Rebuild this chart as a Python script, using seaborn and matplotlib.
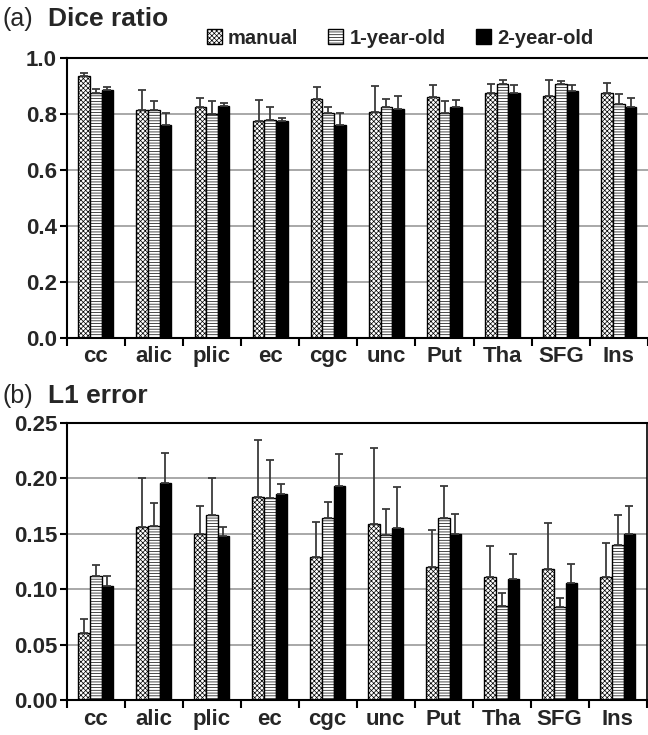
import numpy as np
import pandas as pd
import matplotlib
matplotlib.use('Agg')
import matplotlib.pyplot as plt
from matplotlib.patches import Patch
import seaborn as sns

# chart values
regions = ['cc', 'alic', 'plic', 'ec', 'cgc', 'unc', 'Put', 'Tha', 'SFG', 'Ins']
groups = ['manual', '1-year-old', '2-year-old']

dice_manual = [0.937, 0.815, 0.825, 0.775, 0.854, 0.807, 0.862, 0.874, 0.866, 0.874]
dice_1yr = [0.874, 0.815, 0.799, 0.778, 0.803, 0.826, 0.805, 0.908, 0.908, 0.836]
dice_2yr = [0.887, 0.761, 0.829, 0.776, 0.762, 0.818, 0.826, 0.877, 0.883, 0.826]
dice_manual_sd = [0.010, 0.070, 0.032, 0.077, 0.043, 0.092, 0.043, 0.035, 0.054, 0.037]
dice_1yr_sd = [0.016, 0.030, 0.046, 0.049, 0.023, 0.028, 0.040, 0.015, 0.009, 0.034]
dice_2yr_sd = [0.010, 0.042, 0.010, 0.011, 0.041, 0.046, 0.024, 0.028, 0.022, 0.031]

l1_manual = [0.061, 0.156, 0.150, 0.183, 0.129, 0.159, 0.120, 0.111, 0.118, 0.111]
l1_1yr = [0.112, 0.157, 0.167, 0.182, 0.164, 0.149, 0.164, 0.085, 0.084, 0.140]
l1_2yr = [0.103, 0.196, 0.148, 0.186, 0.193, 0.155, 0.150, 0.109, 0.106, 0.150]
l1_manual_sd = [0.012, 0.044, 0.025, 0.051, 0.032, 0.068, 0.033, 0.028, 0.042, 0.031]
l1_1yr_sd = [0.010, 0.021, 0.033, 0.034, 0.015, 0.023, 0.029, 0.012, 0.008, 0.027]
l1_2yr_sd = [0.009, 0.027, 0.008, 0.009, 0.029, 0.037, 0.018, 0.023, 0.017, 0.025]

sns.set_style('white')
plt.rcParams['font.family'] = ['Liberation Sans', 'DejaVu Sans']
plt.rcParams['hatch.linewidth'] = 0.5

styles = {
    'manual': dict(facecolor='white', hatch='xxxxxxx'),
    '1-year-old': dict(facecolor='white', hatch='------'),
    '2-year-old': dict(facecolor='black', hatch=None),
}


def make_df(a, b, c):
    rows = []
    for g, vals in zip(groups, [a, b, c]):
        for r, v in zip(regions, vals):
            rows.append({'region': r, 'group': g, 'value': v})
    return pd.DataFrame(rows)


def draw_panel(ax, df, sds, ymax, ystep, fmt):
    sns.barplot(data=df, x='region', y='value', hue='group', order=regions,
                hue_order=groups, width=0.6, gap=0, errorbar=None, legend=False,
                palette=['white', 'white', 'black'], ax=ax)
    for cont, g, sd in zip(ax.containers, groups, sds):
        for bar, e in zip(cont, sd):
            bar.set_facecolor(styles[g]['facecolor'])
            bar.set_edgecolor('black')
            bar.set_linewidth(1.0)
            if styles[g]['hatch']:
                bar.set_hatch(styles[g]['hatch'])
        xs = [b.get_x() + b.get_width() / 2 for b in cont]
        ys = [b.get_height() for b in cont]
        ax.errorbar(xs, ys, yerr=[np.zeros(len(sd)), sd], fmt='none',
                    ecolor='#3a3a3a', elinewidth=1.3, capsize=3, capthick=1.3,
                    zorder=1)
    ax.set_xlim(-0.5, 9.5)
    ax.set_ylim(0, ymax)
    yt = np.arange(0, ymax + ystep / 2, ystep)
    ax.set_yticks(yt)
    ax.set_yticklabels([fmt.format(v) for v in yt], fontsize=16, fontweight='bold')
    ax.yaxis.grid(True, color='#999999', linewidth=1.2)
    ax.set_axisbelow(True)
    ax.set_xticks(np.arange(-0.5, 10, 1.0))
    ax.set_xticklabels([])
    ax.set_xticks(np.arange(10), minor=True)
    ax.set_xticklabels(regions, minor=True, fontsize=16, fontweight='bold')
    ax.tick_params(axis='x', which='major', direction='out', length=6, width=1.5,
                   bottom=True, color='black')
    ax.tick_params(axis='x', which='minor', length=0, pad=6)
    ax.tick_params(axis='y', direction='out', length=5, width=1.5, left=True,
                   color='black', pad=2)
    ax.set_xlabel('')
    ax.set_ylabel('')
    for s in ['left', 'bottom', 'top']:
        ax.spines[s].set_color('black')
        ax.spines[s].set_linewidth(1.5)
    ax.spines['right'].set_visible(False)


fig = plt.figure(figsize=(6.48, 7.35), dpi=100)
ax1 = fig.add_axes([0.103, 0.540, 0.897, 0.381])
ax2 = fig.add_axes([0.103, 0.047, 0.895, 0.378])

draw_panel(ax1, make_df(dice_manual, dice_1yr, dice_2yr),
           [dice_manual_sd, dice_1yr_sd, dice_2yr_sd], 1.0, 0.2, '{:.1f}')
draw_panel(ax2, make_df(l1_manual, l1_1yr, l1_2yr),
           [l1_manual_sd, l1_1yr_sd, l1_2yr_sd], 0.25, 0.05, '{:.2f}')
ax2.spines['right'].set_visible(True)
ax2.spines['right'].set_color('black')
ax2.spines['right'].set_linewidth(1.2)

fig.text(0.004, 0.965, '(a)', fontsize=18)
fig.text(0.074, 0.965, 'Dice ratio', fontsize=19, fontweight='bold')
fig.text(0.004, 0.452, '(b)', fontsize=18)
fig.text(0.074, 0.452, 'L1 error', fontsize=19, fontweight='bold')

handles = [Patch(facecolor=styles[g]['facecolor'], edgecolor='black',
                 hatch=styles[g]['hatch'], label=g) for g in groups]
fig.legend(handles=handles, loc='center', bbox_to_anchor=(0.617, 0.948), ncol=3,
           frameon=False, prop={'weight': 'bold', 'size': 14.5},
           handlelength=0.75, handleheight=0.75, handletextpad=0.3,
           columnspacing=1.5)

fig.savefig('out.png', dpi=100)
